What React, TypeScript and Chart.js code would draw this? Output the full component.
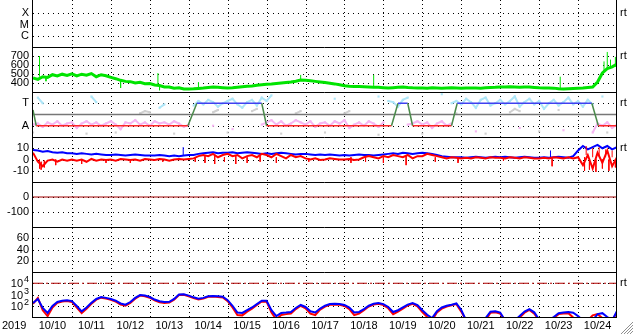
import React, { useEffect, useRef } from 'react';
import { Chart, registerables } from 'chart.js';
Chart.register(...registerables);

// ---------- categories / ticks ----------
const dayLabels = ['10/10', '10/11', '10/12', '10/13', '10/14', '10/15', '10/16', '10/17', '10/18', '10/19', '10/20', '10/21', '10/22', '10/23', '10/24'];
const yearLabel = '2019';
const STEP_HOURS = 3;
const TOTAL_HOURS = 360;

const ticksP1 = [1, 2, 3];
const labelsP1 = ['C', 'M', 'X'];
const ticksP2 = [400, 500, 600, 700];
const ticksP3 = [-1, 1];
const labelsP3 = ['A', 'T'];
const ticksP4 = [-10, 0, 10];
const ticksP5 = [-100, 0];
const ticksP6 = [20, 40, 60];
const ticksP7 = [100, 1000, 10000];
const exponentsP7 = ['2', '3', '4'];

// ---------- panel 2 (green) ----------
const greenValues = [
  456, 440, 470, 462, 492, 478, 498, 484,
  502, 480, 498, 486, 505, 470, 492, 480,
  462, 448, 430, 418, 415, 400, 408, 392,
  394, 378, 372, 356, 355, 342, 346, 334,
  333, 335, 340, 344, 350, 356, 352, 348,
  344, 346, 352, 358, 364, 367, 375, 380,
  385, 389, 395, 400, 405, 411, 420, 432,
  430, 425, 418, 411, 405, 398, 390, 380,
  370, 365, 362, 360, 358, 356, 354, 352,
  348, 344, 348, 352, 356, 350, 346, 344,
  344, 342, 346, 344, 342, 344, 346, 344,
  342, 344, 345, 344, 343, 346, 350, 352,
  356, 355, 357, 356, 354, 356, 355, 350,
  346, 344, 345, 343, 336, 333, 335, 338,
  341, 344, 350, 356, 411, 511, 560, 580,
  610,
];
// [hour, from, to]
const greenSpikes = [
  [4, 470, 700], [8, 460, 420], [54, 425, 345], [77, 370, 510], [78, 365, 320],
  [102, 344, 410], [165, 432, 490], [210, 354, 490], [325, 333, 470], [326, 333, 322],
  [352, 520, 640], [354, 560, 745], [356, 560, 660], [359, 580, 690],
];

// ---------- panel 3 ----------
const stateHours = [0, 2, 95.5, 101, 141, 144, 221, 225, 231, 234, 258, 261.5, 344.5, 348.5, 360];
const stateValues = [0.4, -1, -1, 1, 1, -1, -1, 1, 1, -1, -1, 1, 1, -1, -1];
const lightBlueValues = [
  null, 1.5, 1.0, null, null, null, null, null,
  null, null, null, null, 1.6, 1.1, null, null,
  null, null, null, null, null, null, null, null,
  null, null, 0.6, 0.9, null, null, null, null,
  null, 0.8, 1.2, 0.9, 1.3, 1.1, 0.7, 1.0,
  1.2, 1.4, 0.9, 0.6, 1.1, 1.3, 0.8, 1.5,
  1.2, 1.7, null, null, null, null, null, null,
  null, null, null, null, null, null, 1.4, null,
  null, null, null, null, null, null, null, 1.6,
  null, 1.2, 1.1, 0.7, 1.3, 1.5, null, null,
  null, null, null, null, 1.8, null, 1.0, 1.2,
  0.9, 1.4, 1.1, 0.6, 1.3, 1.5, 0.8, 1.0,
  1.3, 0.9, 1.2, 1.6, 0.7, 1.1, 1.4, 0.9,
  1.2, 0.5, 1.0, 1.3, 0.8, 1.1, 1.5, 0.9,
  1.2, 0.7, 1.3, 0.9, null, 1.6, null, null,
  null,
];
const pinkValues = [
  -0.9, -0.8, -1.1, -0.7, -0.9, -0.6, -1.0, -0.8,
  -0.7, -1.2, -0.8, -0.6, -0.9, -0.7, -1.0, -0.8,
  -0.6, -0.9, -1.3, -0.7, -0.8, -0.5, -0.9, -0.7,
  -1.0, -0.6, -0.8, -0.7, -0.9, -0.6, -0.8, -1.1,
  -0.9, null, null, null, null, -1.0, null, null,
  null, -1.3, null, null, null, null, null, -0.9,
  -0.7, -0.5, -0.9, -0.6, -1.0, -0.8, -0.5, -0.7,
  -0.9, -0.6, -1.1, -0.8, -0.7, -1.0, -0.6, -0.8,
  -0.5, -1.2, -0.9, -0.7, -1.0, -0.6, -0.8, -1.1,
  -0.7, null, null, null, null, -0.9, -0.8, -0.6,
  -0.9, -0.7, -1.2, -0.8, -0.6, -1.0, -0.8, null,
  null, null, null, -1.5, null, null, null, null,
  null, null, null, null, -1.2, null, null, null,
  null, null, null, null, null, -1.4, null, null,
  null, null, null, -1.6, -0.8, -1.0, -0.7, -1.2,
  -0.9,
];
const grayValues = [
  -1.6, null, null, null, null, null, null, null,
  null, null, null, -1.7, null, null, null, null,
  null, -1.6, null, null, null, null, 0.1, 0.3,
  0.2, null, null, null, null, -1.7, null, null,
  null, null, null, null, null, 0.2, 0.4, null,
  -1.6, null, null, null, null, 0.3, 0.5, null,
  null, null, null, -1.7, null, null, 0.1, 0.3,
  null, null, null, null, -1.6, null, null, null,
  0.1, 0.3, null, null, null, null, null, -1.8,
  null, null, null, null, null, null, null, null,
  -1.7, null, null, null, null, null, null, 0.1,
  null, null, null, null, null, -1.7, null, null,
  null, null, 0.2, 0.5, 0.3, null, null, null,
  -1.5, null, null, null, 0.4, null, null, null,
  null, null, null, null, null, null, -1.6, null,
  null,
];

// ---------- panel 4 ----------
const bluePanel4 = [
  8.5, 8, 7, 7.5, 6.5, 6, 6.5, 5.5,
  5.5, 5, 5.5, 5, 4.5, 5, 4.5, 4,
  4, 4.5, 4, 3.5, 4, 4.5, 4, 3.5,
  3.5, 3.5, 4, 3.5, 3, 3.5, 3, 3.5,
  4, 4, 5, 5.5, 6, 6.5, 5.5, 6,
  6, 6.5, 5.5, 6, 6.5, 6, 5.5, 5,
  5.5, 5, 5.5, 6, 5.5, 5, 4.5, 5,
  5, 4.5, 4, 4.5, 4, 4.5, 4, 3.5,
  4, 3.5, 4, 4.5, 4, 4, 3.5, 4,
  4.5, 5, 5.5, 5, 6, 5.5, 5, 5.5,
  6, 5.5, 5, 4, 3, 2.5, 2, 2,
  2, 1.5, 2, 2.5, 2, 1.5, 2, 2.5,
  2, 2.5, 2, 1.5, 2, 2.5, 2, 1.5,
  1.5, 2, 1.5, 2, 2.5, 2, 1.5, 3,
  8, 12, 9, 11, 13, 10, 12, 9,
  11,
];
const redPanel4 = [
  6, -2, -6, -1, 0, -2, 0, -1,
  0, -1, 0, -2, 0.5, -1, 0, -0.5,
  0, -1, 0.5, 0, -0.5, 0, -1, 0.5,
  0, -0.5, 0.5, 0, -1, 0, 0.5, 0,
  0.5, 1, 3, 4, 3, 5, 2, 4,
  5, 3, 4, 1, 3, 4, 2, 5,
  4, 2, 5, 3, 1, 4, 2, 3,
  1, 0, 1, -0.5, 0, 1, 0.5, 0,
  0, 0.5, -0.5, 0, 2, 3, 2, 1,
  3, 2, 4, 3, 2, 4, 1, 3,
  3, 5, 4, 3, 2, 1, 2, 1.5,
  1, 1.5, 1, 2, 1.5, 1, 2, 1.5,
  1.5, 1, 2, 1.5, 1, 2, 1.5, 1,
  1, 1.5, 1, 2, 1.5, 1, 2, 1,
  2, -5, 4, -8, 6, -3, 8, -6,
  2,
];
const blueSpikes4 = [[92.6, 3.5, 11], [319, 2, 8]];
const redSpikes4 = [
  [4, 0, -8], [5, -2, -9], [7, -1, -7], [14, 0, -5], [30, 0, -4], [45, 0, -3], [60, 0, -3],
  [80, 0, -2], [100, 2, -2], [106, 3, -3], [112, 3, -4], [118, 2, -2], [125, 3, -4], [132, 2, -3],
  [140, 3, -2], [150, 2, -3], [170, 1, -2], [196, 2, -3], [205, 2, -2], [216, 2, -3], [230, 3, -5],
  [248, 2, -2], [262, 2, -3], [290, 1, -1], [320, 1, -6], [340, 2, -10], [341, 4, 12], [343, 0, -9],
  [345, 2, 10], [347, 0, -11], [349, 3, 11], [351, 0, -8], [353, 2, 9], [355, 0, -10], [357, 2, 8], [359, 0, -7],
];

// ---------- panel 5 / 7 reference levels ----------
const panel5Level = 0;
const panel7Level = 10000;

// ---------- panel 7 ----------
const bluePanel7 = [
  175, 400, 63, 23, 95, 215, 280, 315,
  260, 95, 32, 70, 180, 400, 600, 500,
  400, 280, 160, 125, 215, 500, 900, 800,
  600, 355, 250, 215, 225, 400, 1000, 1050,
  800, 560, 420, 500, 700, 740, 700, 630,
  315, 100, 25, 23, 40, 70, 140, 280,
  280, 40, 12, 23, 25, 28, 63, 117,
  78, 32, 25, 56, 100, 140, 150, 140,
  117, 70, 25, 28, 50, 100, 148, 175,
  140, 78, 28, 40, 70, 125, 175, 112,
  40, 16, 8, 32, 70, 100, 125, 160,
  42, 5, 5, 5, 5, 8, 30, 32,
  25, 5, 5, 5, 12, 30, 50, 26,
  6, 5, 5, 10, 22, 25, 28, 24,
  12, 5, 5, 5, 18, 22, 10, 5,
  34,
];
const redPanel7 = [
  150, 500, 40, 12, 70, 180, 240, 270,
  220, 70, 22, 55, 150, 350, 520, 430,
  340, 230, 130, 100, 180, 430, 800, 700,
  520, 300, 200, 180, 190, 350, 900, 950,
  700, 480, 360, 430, 620, 650, 600, 540,
  260, 70, 15, 14, 30, 55, 120, 240,
  230, 25, 6, 15, 18, 20, 50, 100,
  60, 20, 15, 45, 85, 120, 130, 120,
  95, 50, 15, 20, 40, 85, 130, 150,
  115, 60, 18, 30, 55, 105, 150, 90,
  28, 10, 5, 25, 55, 85, 110, 140,
  30, 5, 5, 5, 5, 5, 24, 26,
  20, 5, 5, 5, 9, 24, 42, 20,
  5, 5, 5, 8, 18, 20, 22, 9,
  5, 5, 5, 14, 18, 8, 5, 5,
  25,
];

// ---------- styles ----------
const FONT = "'Liberation Sans', Arial, sans-serif";
const GREEN = '#00e400';
const BLUE = '#0000ff';
const RED = '#ff0000';
const STEP_BLUE = '#4040f0';
const STEP_RED = '#ff2828';
const STEP_GREEN = '#4a8a4a';

const series = (vals: (number | null)[]) => vals.map((v, i) => ({ x: i * STEP_HOURS, y: v }));
const spikes = (list: number[][]) =>
  list.flatMap(([h, a, b]) => [{ x: h, y: a }, { x: h, y: b }, { x: h, y: null }]);
const flat = (v: number) => [{ x: 0, y: v }, { x: TOTAL_HOURS, y: v }];

const mkY = (ticks: number[], min: number, max: number, labels?: string[], type = 'linear') => ({
  type,
  position: 'left',
  stack: 'panels',
  stackWeight: 1,
  min,
  max,
  grid: { display: false, drawTicks: false },
  border: { display: false },
  afterBuildTicks: (s: any) => { s.ticks = ticks.map((v) => ({ value: v })); },
  afterFit: (s: any) => { s.width = 33; s.paddingTop = 0; s.paddingBottom = 0; },
  ticks: {
    autoSkip: false,
    padding: 4,
    color: '#000',
    font: { family: FONT, size: 11 },
    callback: (v: any, i: number) => (labels ? labels[i] : String(v)),
  },
});

const gridSpec: [string, number[]][] = [
  ['y1', ticksP1], ['y2', ticksP2], ['y3', ticksP3], ['y4', ticksP4],
  ['y5', ticksP5], ['y6', ticksP6], ['y7', ticksP7],
];
const rtSpec: [string, number][] = [['y1', 3], ['y2', 700], ['y3', 1], ['y4', 10], ['y7', 10000]];

const framePlugin = {
  id: 'frame',
  beforeDatasetsDraw(chart: any) {
    const { ctx, chartArea: a, scales } = chart;
    ctx.save();
    ctx.strokeStyle = '#000';
    ctx.lineWidth = 1;
    ctx.setLineDash([1, 4]);
    ctx.beginPath();
    for (const [id, vals] of gridSpec) {
      const s = scales[id];
      for (const v of vals) {
        const y = Math.round(s.getPixelForValue(v)) + 0.5;
        ctx.moveTo(a.left, y);
        ctx.lineTo(a.right, y);
      }
    }
    ctx.stroke();
    ctx.setLineDash([1, 3]);
    ctx.beginPath();
    const xs = scales.x;
    for (let d = 1; d < dayLabels.length; d++) {
      const x = Math.round(xs.getPixelForValue(d * 24)) + 0.5;
      ctx.moveTo(x, 0);
      ctx.lineTo(x, a.bottom);
    }
    ctx.stroke();
    ctx.restore();
  },
  afterDatasetsDraw(chart: any) {
    const { ctx, chartArea: a, scales } = chart;
    ctx.save();
    ctx.strokeStyle = '#000';
    ctx.lineWidth = 1;
    ctx.setLineDash([]);
    ctx.beginPath();
    const l = Math.round(a.left) - 0.5;
    const r = Math.round(a.right) - 0.5;
    ctx.moveTo(l, 0);
    ctx.lineTo(l, Math.round(a.bottom) + 1);
    ctx.moveTo(r, 0);
    ctx.lineTo(r, Math.round(a.bottom) + 1);
    for (const [id] of gridSpec) {
      const y = Math.round(scales[id].bottom) + 0.5;
      ctx.moveTo(l, y);
      ctx.lineTo(r, y);
    }
    ctx.stroke();
    ctx.restore();
  },
  afterDraw(chart: any) {
    const { ctx, chartArea: a, scales } = chart;
    ctx.save();
    ctx.fillStyle = '#000';
    ctx.font = `11px ${FONT}`;
    ctx.textBaseline = 'middle';
    ctx.textAlign = 'left';
    for (const [id, v] of rtSpec) {
      ctx.fillText('rt', Math.round(a.right) + 3, Math.round(scales[id].getPixelForValue(v)));
    }
    ctx.fillText(yearLabel, 2, a.bottom + 9);
    // log-axis labels: base 10 with a raised exponent
    const s7 = scales.y7;
    ticksP7.forEach((v, i) => {
      const y = Math.round(s7.getPixelForValue(v));
      ctx.font = `11px ${FONT}`;
      ctx.textAlign = 'right';
      ctx.fillText('10', 23, y + 1);
      ctx.font = `9px ${FONT}`;
      ctx.textAlign = 'left';
      ctx.fillText(exponentsP7[i], 24, y - 3);
    });
    // window resize grip
    ctx.strokeStyle = '#909090';
    ctx.lineWidth = 1;
    ctx.beginPath();
    const W = chart.width, H = chart.height;
    for (let k = 0; k < 4; k++) {
      const o = 3 + k * 3;
      ctx.moveTo(W - o, H);
      ctx.lineTo(W, H - o);
    }
    ctx.stroke();
    ctx.restore();
  },
};

const line = (extra: any) => ({
  type: 'line',
  pointRadius: 0,
  borderWidth: 1,
  tension: 0,
  spanGaps: false,
  clip: 0,
  ...extra,
});

export default function App() {
  const ref = useRef<HTMLCanvasElement>(null);
  useEffect(() => {
    document.body.style.margin = '0';
    const datasets: any[] = [
      // panel 4
      line({ yAxisID: 'y4', data: series(redPanel4), borderColor: RED, borderWidth: 2, order: 1 }),
      line({ yAxisID: 'y4', data: spikes(redSpikes4), borderColor: RED, borderWidth: 1, order: 1 }),
      line({ yAxisID: 'y4', data: series(bluePanel4), borderColor: BLUE, borderWidth: 2, order: 2 }),
      line({ yAxisID: 'y4', data: spikes(blueSpikes4), borderColor: BLUE, borderWidth: 1, order: 2 }),
      // panel 3
      line({
        yAxisID: 'y3', order: 3, borderWidth: 1.5,
        data: stateHours.map((h, i) => ({ x: h, y: stateValues[i] })),
        borderColor: STEP_RED,
        segment: {
          borderColor: (c: any) => {
            const p = c.p0.parsed.y, q = c.p1.parsed.y;
            if (p === q) return p > 0 ? STEP_BLUE : STEP_RED;
            return STEP_GREEN;
          },
        },
      }),
      line({ yAxisID: 'y3', order: 4, data: flat(0), borderColor: '#777777', borderWidth: 1.5 }),
      line({ yAxisID: 'y3', order: 5, data: series(lightBlueValues), borderColor: '#aee6f8', backgroundColor: '#aee6f8', borderWidth: 2, pointRadius: 1.5, pointStyle: 'rect', pointBorderWidth: 0 }),
      line({ yAxisID: 'y3', order: 6, data: series(pinkValues), borderColor: '#f6b6f2', backgroundColor: '#f6b6f2', borderWidth: 2, pointRadius: 1.5, pointStyle: 'rect', pointBorderWidth: 0 }),
      line({ yAxisID: 'y3', order: 7, data: series(grayValues), borderColor: '#d0d0d0', backgroundColor: '#d0d0d0', borderWidth: 2, pointRadius: 1.5, pointStyle: 'rect', pointBorderWidth: 0 }),
      // panel 2
      line({ yAxisID: 'y2', order: 8, data: series(greenValues), borderColor: GREEN, borderWidth: 3 }),
      line({ yAxisID: 'y2', order: 8, data: spikes(greenSpikes), borderColor: GREEN, borderWidth: 1 }),
      // panel 5
      line({ yAxisID: 'y5', order: 9, data: flat(panel5Level), borderColor: '#a00000', borderWidth: 1 }),
      // panel 7
      line({ yAxisID: 'y7', order: 10, data: series(bluePanel7), borderColor: BLUE, borderWidth: 2 }),
      line({ yAxisID: 'y7', order: 11, data: series(redPanel7), borderColor: RED, borderWidth: 2 }),
      line({ yAxisID: 'y7', order: 12, data: flat(panel7Level), borderColor: '#b00000', borderWidth: 1, borderDash: [10, 3, 2, 3] }),
    ];
    // stacked left axes are laid out bottom-first, so list the bottom panel first
    const chart = new Chart(ref.current as HTMLCanvasElement, {
      type: 'line',
      data: { datasets },
      plugins: [framePlugin],
      options: {
        responsive: false,
        devicePixelRatio: 1,
        animation: false,
        events: [],
        layout: { autoPadding: false, padding: { top: 2, left: 0, right: 16, bottom: 0 } },
        plugins: { legend: { display: false }, tooltip: { enabled: false } },
        scales: {
          x: {
            type: 'linear',
            position: 'bottom',
            min: 0,
            max: TOTAL_HOURS,
            grid: { display: false, drawTicks: false },
            border: { display: false },
            afterBuildTicks: (s: any) => { s.ticks = dayLabels.map((_, k) => ({ value: 12 + 24 * k })); },
            afterFit: (s: any) => { s.height = 17; s.paddingLeft = 0; s.paddingRight = 0; },
            ticks: {
              autoSkip: false,
              maxRotation: 0,
              minRotation: 0,
              padding: 2,
              color: '#000',
              font: { family: FONT, size: 11 },
              callback: (_v: any, i: number) => dayLabels[i],
            },
          },
          y7: mkY(ticksP7, 10, 100000, ['', '', ''], 'logarithmic'),
          y6: mkY(ticksP6, 0, 80),
          y5: mkY(ticksP5, -200, 100),
          y4: mkY(ticksP4, -20, 20),
          y3: mkY(ticksP3, -2, 2, labelsP3),
          y2: mkY(ticksP2, 300, 800),
          y1: mkY(ticksP1, 0, 4, labelsP1),
        } as any,
      },
    } as any);
    return () => chart.destroy();
  }, []);
  return (
    <div style={{ width: 633, height: 334 }}>
      <canvas ref={ref} width={633} height={334} style={{ display: 'block', width: 633, height: 334 }} />
    </div>
  );
}
